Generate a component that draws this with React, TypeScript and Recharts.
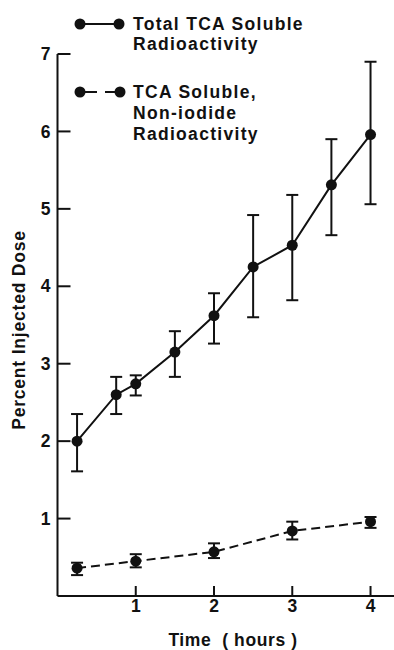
import React from 'react';
import { ComposedChart, Line, XAxis, YAxis, ErrorBar, Label } from 'recharts';

// total TCA soluble radioactivity
const totalHours = [0.25, 0.75, 1, 1.5, 2, 2.5, 3, 3.5, 4];
const totalMean = [2.0, 2.6, 2.74, 3.15, 3.62, 4.25, 4.53, 5.31, 5.96];
const totalLow = [1.61, 2.35, 2.59, 2.83, 3.26, 3.6, 3.82, 4.66, 5.06];
const totalHigh = [2.35, 2.83, 2.85, 3.42, 3.91, 4.92, 5.18, 5.9, 6.9];

// TCA soluble, non-iodide radioactivity
const nonIodideHours = [0.25, 1, 2, 3, 4];
const nonIodideMean = [0.36, 0.45, 0.57, 0.84, 0.96];
const nonIodideLow = [0.27, 0.37, 0.49, 0.73, 0.88];
const nonIodideHigh = [0.43, 0.54, 0.68, 0.96, 1.02];

const xTicks = [1, 2, 3, 4];
const yTicks = [1, 2, 3, 4, 5, 6, 7];

const ink = '#111';
const font = '"Liberation Sans", Arial, sans-serif';
const textStyle = { fontSize: 17.5, fontFamily: font, fontWeight: 'bold' as const, fill: ink };

const buildRows = (hours: number[], mean: number[], low: number[], high: number[]) =>
  hours.map((h, i) => ({
    x: h,
    y: mean[i],
    err: [mean[i] - low[i], high[i] - mean[i]],
  }));

const totalRows = buildRows(totalHours, totalMean, totalLow, totalHigh);
const nonIodideRows = buildRows(nonIodideHours, nonIodideMean, nonIodideLow, nonIodideHigh);

const LegendBox = () => (
  <svg
    width={394}
    height={150}
    style={{ position: 'absolute', left: 0, top: 0, pointerEvents: 'none' }}
  >
    <line x1={80} x2={119} y1={24} y2={24} stroke={ink} strokeWidth={2} />
    <circle cx={80} cy={24} r={5.5} fill={ink} />
    <circle cx={119} cy={24} r={5.5} fill={ink} />
    <text {...textStyle} letterSpacing={1.3}>
      <tspan x={133} y={29.5}>Total TCA Soluble</tspan>
      <tspan x={133} y={50}>Radioactivity</tspan>
    </text>

    <line x1={80} x2={120} y1={92} y2={92} stroke={ink} strokeWidth={2} strokeDasharray="17 8 20" />
    <circle cx={80} cy={92} r={5.5} fill={ink} />
    <circle cx={120} cy={92} r={5.5} fill={ink} />
    <text {...textStyle} letterSpacing={1.3}>
      <tspan x={133} y={97.5}>TCA Soluble,</tspan>
      <tspan x={133} y={118.5}>Non-iodide</tspan>
      <tspan x={133} y={139.5}>Radioactivity</tspan>
    </text>
  </svg>
);

export default function App() {
  return (
    <div style={{ position: 'absolute', left: 0, top: 0, width: 394, height: 650, background: '#fff' }}>
      <ComposedChart width={394} height={650} margin={{ top: 54, right: 0, bottom: 0, left: 0 }}>
        <XAxis
          type="number"
          dataKey="x"
          domain={[0, 4.3]}
          ticks={xTicks}
          allowDataOverflow
          height={54}
          tickSize={-10}
          tickMargin={14}
          tickLine={{ stroke: ink, strokeWidth: 2 }}
          tick={textStyle}
          axisLine={{ stroke: ink, strokeWidth: 2 }}
        >
          <Label
            content={() => (
              <text x={233} y={646} textAnchor="middle" {...textStyle} style={{ whiteSpace: 'pre' }} letterSpacing={0.6}>
                {'Time  ( hours )'}
              </text>
            )}
          />
        </XAxis>
        <YAxis
          type="number"
          dataKey="y"
          domain={[0, 7]}
          ticks={yTicks}
          width={57.5}
          tickSize={-13}
          tickMargin={20}
          tickLine={{ stroke: ink, strokeWidth: 2 }}
          tick={textStyle}
          axisLine={{ stroke: ink, strokeWidth: 2 }}
        >
          <Label
            content={() => (
              <text
                x={25}
                y={330}
                transform="rotate(-90, 25, 330)"
                textAnchor="middle"
                {...textStyle}
                letterSpacing={0.8}
              >
                Percent Injected Dose
              </text>
            )}
          />
        </YAxis>
        <Line
          data={totalRows}
          dataKey="y"
          stroke={ink}
          strokeWidth={2}
          dot={{ r: 5.5, fill: ink, stroke: ink, strokeWidth: 0 }}
          isAnimationActive={false}
        >
          <ErrorBar dataKey="err" width={6} stroke={ink} strokeWidth={2} direction="y" />
        </Line>
        <Line
          data={nonIodideRows}
          dataKey="y"
          stroke={ink}
          strokeWidth={2}
          strokeDasharray="9 5"
          dot={{ r: 5.5, fill: ink, stroke: ink, strokeWidth: 0, strokeDasharray: '0' }}
          isAnimationActive={false}
        >
          <ErrorBar dataKey="err" width={6} stroke={ink} strokeWidth={2} direction="y" />
        </Line>
      </ComposedChart>
      <LegendBox />
    </div>
  );
}
